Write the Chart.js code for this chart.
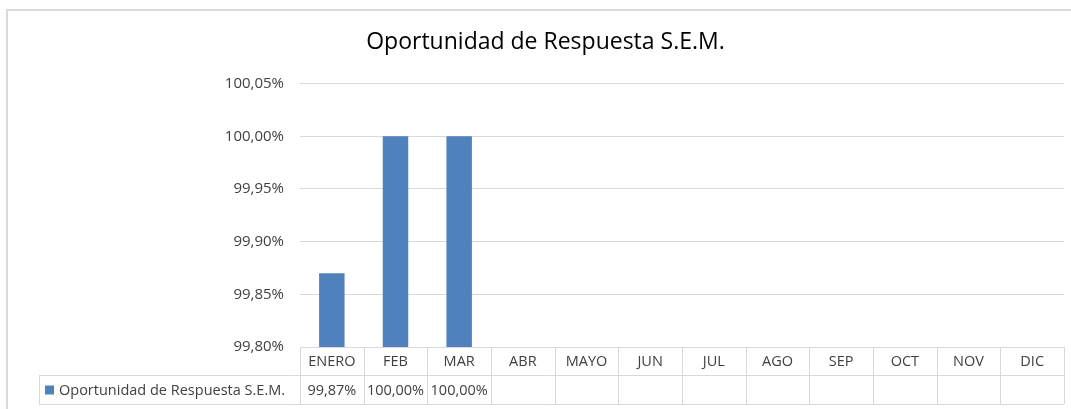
<!DOCTYPE html>
<html>
<head>
<meta charset="utf-8">
<script src="https://cdn.jsdelivr.net/npm/chart.js@4.4.1/dist/chart.umd.min.js"></script>
<style>
  html, body { margin: 0; padding: 0; background: #fff; overflow: hidden; }
  #wrap { width: 1071px; height: 409px; position: relative; }
</style>
</head>
<body>
<div id="wrap"><canvas id="grafico"></canvas></div>
<script>
// datos del grafico
var meses = ['ENERO', 'FEB', 'MAR', 'ABR', 'MAYO', 'JUN', 'JUL', 'AGO', 'SEP', 'OCT', 'NOV', 'DIC'];
var oportunidad = [99.87, 100.00, 100.00, null, null, null, null, null, null, null, null, null];
var serieNombre = 'Oportunidad de Respuesta S.E.M.';
var tituloTexto = 'Oportunidad de Respuesta S.E.M.';

var colorBarra = '#4F81BD';
var colorLinea = '#d9d9d9';
var colorTexto = '#404040';
var fuente = "'Open Sans', sans-serif";

function formatoPct(v) {
    return v.toFixed(2).replace('.', ',') + '%';
}

// marco exterior del grafico
var marco = {
    id: 'marco',
    beforeDraw: function (chart) {
        var ctx = chart.ctx;
        ctx.save();
        ctx.fillStyle = '#fff';
        ctx.fillRect(0, 0, chart.width, chart.height);
        ctx.strokeStyle = colorLinea;
        ctx.lineWidth = 2;
        ctx.strokeRect(7, 10, chart.width + 20, chart.height + 20);
        ctx.restore();
    }
};

// tabla de datos debajo del grafico
var tablaDatos = {
    id: 'tablaDatos',
    afterDraw: function (chart) {
        var ctx = chart.ctx;
        var area = chart.chartArea;
        var x = chart.scales.x;
        var y0 = area.bottom;
        var y1 = y0 + 28;
        var y2 = y1 + 29;
        var izq = 39;
        var paso = (area.right - area.left) / meses.length;

        ctx.save();
        ctx.strokeStyle = colorLinea;
        ctx.lineWidth = 1;
        ctx.beginPath();
        ctx.moveTo(area.left, y0 + 0.5); ctx.lineTo(area.right, y0 + 0.5);
        ctx.moveTo(izq, y1 + 0.5); ctx.lineTo(area.right, y1 + 0.5);
        ctx.moveTo(izq, y2 + 0.5); ctx.lineTo(area.right, y2 + 0.5);
        ctx.moveTo(izq + 0.5, y1); ctx.lineTo(izq + 0.5, y2);
        for (var i = 0; i <= meses.length; i++) {
            var xb = Math.round(area.left + i * paso) + 0.5;
            ctx.moveTo(xb, y0); ctx.lineTo(xb, y2);
        }
        ctx.stroke();

        ctx.fillStyle = colorTexto;
        ctx.font = '14.5px ' + fuente;
        ctx.textAlign = 'center';
        ctx.textBaseline = 'middle';
        for (var j = 0; j < meses.length; j++) {
            var xc = x.getPixelForValue(j);
            ctx.fillText(meses[j], xc, (y0 + y1) / 2 + 1);
            if (oportunidad[j] != null) {
                ctx.fillText(formatoPct(oportunidad[j]), xc, (y1 + y2) / 2 + 1);
            }
        }

        ctx.fillStyle = colorBarra;
        ctx.fillRect(45, (y1 + y2) / 2 - 4, 9, 9);
        ctx.fillStyle = colorTexto;
        ctx.textAlign = 'left';
        ctx.fillText(serieNombre, 59, (y1 + y2) / 2 + 1);
        ctx.restore();
    }
};

var ctx = document.getElementById('grafico').getContext('2d');
var grafico = new Chart(ctx, {
    type: 'bar',
    data: {
        labels: meses,
        datasets: [{
            label: serieNombre,
            data: oportunidad,
            backgroundColor: colorBarra,
            borderWidth: 0,
            categoryPercentage: 1.0,
            barPercentage: 0.4
        }]
    },
    options: {
        responsive: true,
        maintainAspectRatio: false,
        animation: false,
        layout: { padding: { left: 27, right: 7, top: 0, bottom: 62 } },
        plugins: {
            legend: { display: false },
            tooltip: { enabled: false },
            title: {
                display: true,
                text: tituloTexto,
                color: '#000',
                font: { family: fuente, size: 23, weight: 'normal' },
                padding: { top: 29, bottom: 27 }
            }
        },
        scales: {
            x: {
                display: false,
                offset: true
            },
            y: {
                min: 99.80,
                max: 100.05,
                border: { display: false },
                grid: { color: colorLinea, drawTicks: false },
                ticks: {
                    stepSize: 0.05,
                    padding: 16,
                    color: '#404040',
                    font: { family: fuente, size: 15 },
                    callback: function (v) { return formatoPct(v); }
                },
                afterFit: function (escala) { escala.width = 273; }
            }
        }
    },
    plugins: [marco, tablaDatos]
});
</script>
</body>
</html>
